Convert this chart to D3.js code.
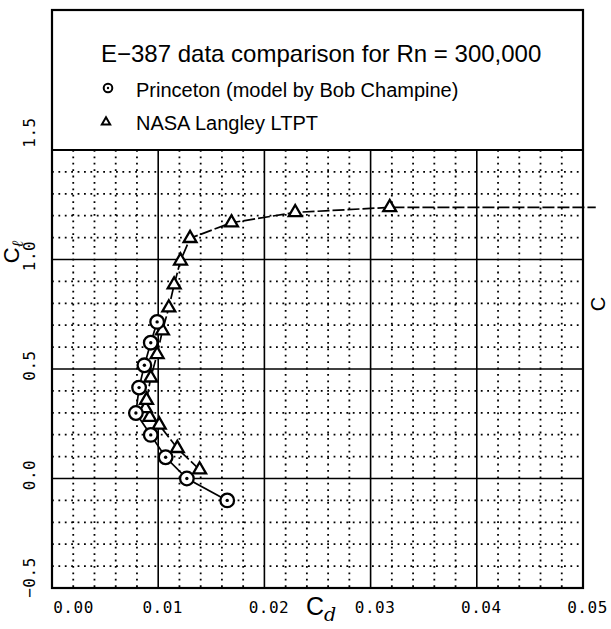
<!DOCTYPE html>
<html>
<head>
<meta charset="utf-8">
<script src="https://cdn.jsdelivr.net/npm/d3@7"></script>
<style>
    body { margin: 0; background: #fff; }
    svg { display: block; }
    .grade-menor { stroke: #000; stroke-width: 1.8; stroke-dasharray: 1.8 4.6; fill: none; }
    .grade-maior { stroke: #000; stroke-width: 1.6; fill: none; }
    .rotulo { font-family: "DejaVu Sans Mono", monospace; font-size: 16px; letter-spacing: 0.5px; fill: #000; }
    .legenda { font-family: "Liberation Sans", sans-serif; fill: #000; }
</style>
</head>
<body>
<svg id="grafico" width="611" height="629"></svg>
<script>
// --- dados ---
const titulo = "E\u2212387 data comparison for Rn = 300,000";
const nomesSeries = ["Princeton (model by Bob Champine)", "NASA Langley LTPT"];

const ticksCd = [0, 0.01, 0.02, 0.03, 0.04, 0.05];
const rotulosCd = ["0.00", "0.01", "0.02", "0.03", "0.04", "0.05"];
const ticksCl = [-0.5, 0, 0.5, 1.0, 1.5];
const rotulosCl = ["\u22120.5", "0.0", "0.5", "1.0", "1.5"];

// Princeton (círculos)
const princetonCd = [0.0165, 0.0127, 0.0107, 0.0093, 0.0079, 0.0082, 0.0087, 0.0093, 0.0099];
const princetonCl = [-0.10, 0.00, 0.097, 0.199, 0.299, 0.415, 0.517, 0.62, 0.715];

// NASA Langley LTPT (triângulos)
const nasaCd = [0.0139, 0.0118, 0.0101, 0.0092, 0.0088, 0.0089, 0.0093, 0.0099, 0.0104, 0.0110, 0.0115, 0.0121, 0.0130, 0.0169, 0.0229, 0.0318];
const nasaCl = [0.04, 0.138, 0.245, 0.28, 0.32, 0.358, 0.46, 0.567, 0.675, 0.78, 0.885, 0.994, 1.097, 1.168, 1.215, 1.238];
// a linha da NASA continua além da moldura (sem marcador)
const nasaFimCd = 0.0512, nasaFimCl = 1.238;

// --- desenho ---
const svg = d3.select("#grafico");
const x = d3.scaleLinear().domain([0, 0.05]).range([52, 583]);
const y = d3.scaleLinear().domain([-0.5, 1.5]).range([588, 150]);

const princeton = princetonCd.map((cd, i) => ({ cd, cl: princetonCl[i] }));
const nasa = nasaCd.map((cd, i) => ({ cd, cl: nasaCl[i] }));

// grade pontilhada
svg.append("g").selectAll("line")
    .data(d3.range(1, 25).filter(i => i % 5 !== 0).map(i => i * 0.002))
    .join("line").attr("class", "grade-menor")
    .attr("x1", d => x(d)).attr("x2", d => x(d))
    .attr("y1", y(1.5)).attr("y2", y(-0.5));
svg.append("g").selectAll("line")
    .data(d3.range(1, 20).filter(i => i % 5 !== 0).map(i => -0.5 + i * 0.1))
    .join("line").attr("class", "grade-menor")
    .attr("x1", x(0)).attr("x2", x(0.05))
    .attr("y1", d => y(d)).attr("y2", d => y(d));

// grade maior
svg.append("g").selectAll("line")
    .data(ticksCd.slice(1, -1))
    .join("line").attr("class", "grade-maior")
    .attr("x1", d => x(d)).attr("x2", d => x(d))
    .attr("y1", y(1.5)).attr("y2", y(-0.5));
svg.append("g").selectAll("line")
    .data(ticksCl.slice(1, -1))
    .join("line").attr("class", "grade-maior")
    .attr("x1", x(0)).attr("x2", x(0.05))
    .attr("y1", d => y(d)).attr("y2", d => y(d));

// moldura + caixa da legenda
svg.append("rect")
    .attr("x", x(0)).attr("y", 10)
    .attr("width", x(0.05) - x(0)).attr("height", y(-0.5) - 10)
    .attr("fill", "none").attr("stroke", "#000").attr("stroke-width", 2.2);
svg.append("line")
    .attr("x1", x(0)).attr("x2", x(0.05))
    .attr("y1", y(1.5)).attr("y2", y(1.5))
    .attr("stroke", "#000").attr("stroke-width", 2);

// eixos (só rótulos)
const eixoX = svg.append("g")
    .attr("transform", `translate(4,${y(-0.5)})`)
    .call(d3.axisBottom(x).tickValues(ticksCd).tickFormat((d, i) => rotulosCd[i]).tickSize(0).tickPadding(14));
eixoX.select(".domain").remove();
eixoX.selectAll("text").attr("class", "rotulo").attr("font-family", null).attr("font-size", null)
    .attr("dx", (d, i) => i === 0 ? 17 : 0);

const eixoY = svg.append("g")
    .attr("transform", `translate(${x(0)},-4)`)
    .call(d3.axisLeft(y).tickValues(ticksCl).tickFormat((d, i) => rotulosCl[i]).tickSize(0).tickPadding(0));
eixoY.select(".domain").remove();
eixoY.selectAll(".tick text")
    .attr("class", "rotulo").attr("font-family", null).attr("font-size", null)
    .attr("x", null).attr("dy", null)
    .attr("text-anchor", "middle")
    .attr("transform", (d, i) => {
        const dy = i === 0 ? -7 : (i === ticksCl.length - 1 ? -14 : 0);
        return `translate(-17,${dy}) rotate(-90)`;
    });

// títulos dos eixos
const tituloX = svg.append("text").attr("x", 306).attr("y", 615)
    .attr("font-family", "'Liberation Sans', sans-serif").attr("font-size", 25);
tituloX.append("tspan").text("C");
tituloX.append("tspan").attr("dy", 6).attr("font-size", 19)
    .attr("font-family", "'DejaVu Serif', serif").attr("font-style", "italic").text("d");

const tituloY = svg.append("text")
    .attr("transform", "translate(19,252) rotate(-90)")
    .attr("text-anchor", "middle")
    .attr("font-family", "'Liberation Sans', sans-serif").attr("font-size", 22);
tituloY.append("tspan").text("C");
tituloY.append("tspan").attr("dy", 4).attr("font-size", 16)
    .attr("font-family", "'DejaVu Serif', serif").attr("font-style", "italic").text("\u2113");

// "C" na borda direita
svg.append("text")
    .attr("transform", "translate(605,304) rotate(-90)")
    .attr("text-anchor", "middle")
    .attr("font-family", "'Liberation Sans', sans-serif").attr("font-size", 20)
    .text("C");

// linhas das séries
const linha = d3.line().x(d => x(d.cd)).y(d => y(d.cl));
svg.append("path").datum(nasa.concat([{ cd: nasaFimCd, cl: nasaFimCl }]))
    .attr("d", linha).attr("fill", "none").attr("stroke", "#000")
    .attr("stroke-width", 1.7).attr("stroke-dasharray", "12 3");
svg.append("path").datum(princeton)
    .attr("d", linha).attr("fill", "none").attr("stroke", "#000").attr("stroke-width", 1.7);

// marcadores
const triangulo = d3.symbol().type(d3.symbolTriangle).size(72);
svg.append("g").selectAll("path")
    .data(nasa)
    .join("path")
    .attr("transform", d => `translate(${x(d.cd)},${y(d.cl)})`)
    .attr("d", triangulo)
    .attr("fill", "#fff").attr("stroke", "#000").attr("stroke-width", 2.3);

const circulos = svg.append("g").selectAll("g")
    .data(princeton)
    .join("g")
    .attr("transform", d => `translate(${x(d.cd)},${y(d.cl)})`);
circulos.append("circle").attr("r", 6.8).attr("fill", "#fff").attr("stroke", "#000").attr("stroke-width", 2.3);
circulos.append("circle").attr("r", 1.7).attr("fill", "#000");

// legenda
svg.append("text").attr("class", "legenda")
    .attr("x", 101).attr("y", 62).attr("font-size", 24).text(titulo);
svg.append("text").attr("class", "legenda")
    .attr("x", 136).attr("y", 97).attr("font-size", 20).text(nomesSeries[0]);
svg.append("text").attr("class", "legenda")
    .attr("x", 136).attr("y", 130).attr("font-size", 20).text(nomesSeries[1]);

const mc = svg.append("g").attr("transform", "translate(108,88)");
mc.append("circle").attr("r", 4.3).attr("fill", "#fff").attr("stroke", "#000").attr("stroke-width", 2);
mc.append("circle").attr("r", 1.2).attr("fill", "#000");
svg.append("path")
    .attr("transform", "translate(106,122)")
    .attr("d", d3.symbol().type(d3.symbolTriangle).size(30)())
    .attr("fill", "#fff").attr("stroke", "#000").attr("stroke-width", 2);
</script>
</body>
</html>
